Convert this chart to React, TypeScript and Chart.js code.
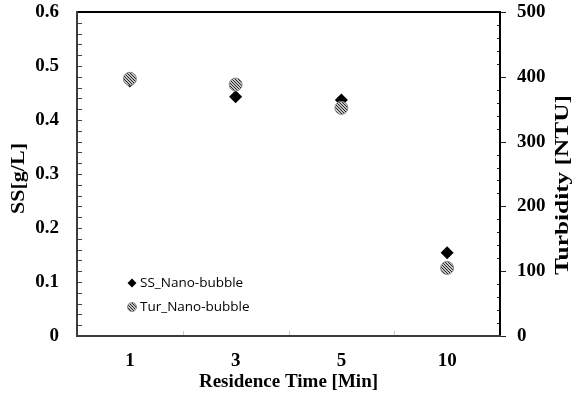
import React, { useEffect, useRef } from "react";
import { Chart, registerables } from "chart.js";

Chart.register(...registerables);

const categories = ["1", "3", "5", "10"];
const ssValues = [0.472, 0.443, 0.437, 0.154];
const turValues = [397, 388, 352, 105];
const ssTicks = [0, 0.1, 0.2, 0.3, 0.4, 0.5, 0.6];
const turTicks = [0, 100, 200, 300, 400, 500];

const SERIF = "'Liberation Serif', 'Times New Roman', serif";
const SANS = "'Open Sans', 'Noto Sans', sans-serif";

function makePattern(ctx: CanvasRenderingContext2D) {
  const pc = document.createElement("canvas");
  pc.width = 3;
  pc.height = 3;
  const g = pc.getContext("2d")!;
  g.fillStyle = "#c4c4c4";
  g.fillRect(0, 0, 3, 3);
  g.fillStyle = "#262626";
  g.fillRect(0, 0, 1, 1);
  g.fillRect(1, 1, 1, 1);
  g.fillRect(2, 2, 1, 1);
  return ctx.createPattern(pc, "repeat")!;
}

function stretchedText(c: CanvasRenderingContext2D, text: string, cx: number, cy: number, targetWidth: number) {
  c.save();
  c.fillStyle = "#000";
  c.font = `bold 19px ${SERIF}`;
  c.textAlign = "center";
  c.textBaseline = "middle";
  const w = c.measureText(text).width;
  c.translate(cx, cy);
  c.rotate(-Math.PI / 2);
  c.scale(targetWidth / w, 1);
  c.fillText(text, 0, 0);
  c.restore();
}

export default function App() {
  const ref = useRef<HTMLCanvasElement | null>(null);

  useEffect(() => {
    const canvas = ref.current!;
    const ctx = canvas.getContext("2d")!;
    const pattern = makePattern(ctx);

    const framePlugin = {
      id: "frame",
      afterDraw(chart: any) {
        const { ctx: c, chartArea: a, scales } = chart;
        const y = scales.y;
        const y2 = scales.y2;
        c.save();
        c.strokeStyle = "#444";
        c.lineWidth = 1;
        for (let i = 0; i <= 30; i++) {
          const py = Math.round(y.getPixelForValue(i * 0.02)) + 0.5;
          c.beginPath();
          c.moveTo(a.left, py);
          c.lineTo(a.left + 5, py);
          c.stroke();
        }
        c.strokeStyle = "#222";
        for (let i = 0; i <= 25; i++) {
          const v = i * 20;
          const py = Math.round(y2.getPixelForValue(v)) + 0.5;
          c.beginPath();
          if (v % 100 === 0) {
            c.moveTo(a.right, py);
            c.lineTo(a.right + 6, py);
          } else {
            c.moveTo(a.right - 3, py);
            c.lineTo(a.right, py);
          }
          c.stroke();
        }
        c.strokeStyle = "#c8c8c8";
        const w = (a.right - a.left) / categories.length;
        for (let k = 1; k < categories.length; k++) {
          const px = Math.round(a.left + k * w) + 0.5;
          c.beginPath();
          c.moveTo(px, a.bottom);
          c.lineTo(px, a.bottom - 5);
          c.stroke();
        }
        c.lineWidth = 2;
        c.strokeStyle = "#000";
        c.beginPath();
        c.moveTo(a.left, a.top);
        c.lineTo(a.right, a.top);
        c.lineTo(a.right, a.bottom);
        c.stroke();
        c.strokeStyle = "#3c3c3c";
        c.beginPath();
        c.moveTo(a.left, a.top - 1);
        c.lineTo(a.left, a.bottom);
        c.lineTo(a.right + 1, a.bottom);
        c.stroke();
        c.restore();

        // axis titles (vertical, reading bottom-to-top)
        stretchedText(c, "SS[g/L]", 19, 178.5, 71);
        stretchedText(c, "Turbidity [NTU]", 563, 185, 180);

        // legend
        c.save();
        const lx = 132;
        const ly1 = 283;
        const ly2 = 307;
        c.fillStyle = "#000";
        c.beginPath();
        c.moveTo(lx, ly1 - 4.5);
        c.lineTo(lx + 4.5, ly1);
        c.lineTo(lx, ly1 + 4.5);
        c.lineTo(lx - 4.5, ly1);
        c.closePath();
        c.fill();
        c.beginPath();
        c.arc(lx, ly2, 4.5, 0, Math.PI * 2);
        c.fillStyle = pattern;
        c.fill();
        c.strokeStyle = "#888";
        c.lineWidth = 1;
        c.stroke();
        c.fillStyle = "#000";
        c.font = `13.5px ${SANS}`;
        c.textAlign = "left";
        c.textBaseline = "middle";
        c.fillText("SS_Nano-bubble", 140, ly1);
        c.fillText("Tur_Nano-bubble", 140, ly2);
        c.restore();
      },
    };

    const noPad = (scale: any) => {
      scale.paddingTop = 0;
      scale.paddingBottom = 0;
    };

    const chart = new Chart(canvas, {
      type: "line",
      data: {
        labels: categories,
        datasets: [
          {
            label: "SS_Nano-bubble",
            data: ssValues,
            yAxisID: "y",
            showLine: false,
            pointStyle: "rectRot",
            pointRadius: 6.5,
            backgroundColor: "#000",
            borderColor: "#000",
            borderWidth: 0,
            order: 1,
          },
          {
            label: "Tur_Nano-bubble",
            data: turValues,
            yAxisID: "y2",
            showLine: false,
            pointStyle: "circle",
            pointRadius: 6.5,
            backgroundColor: pattern as any,
            borderColor: "#8a8a8a",
            borderWidth: 1,
            order: 0,
          },
        ],
      },
      options: {
        responsive: false,
        animation: false,
        devicePixelRatio: 1,
        layout: { padding: { top: 12, left: 0, right: 0, bottom: 0 } },
        plugins: {
          legend: { display: false },
          tooltip: { enabled: false },
        },
        scales: {
          x: {
            type: "category",
            offset: true,
            grid: { display: false, drawTicks: false },
            border: { display: false },
            ticks: {
              color: "#000",
              font: { family: SERIF, size: 19, weight: "bold" },
              padding: 14,
            },
            title: {
              display: true,
              text: "Residence Time [Min]",
              color: "#000",
              font: { family: SERIF, size: 19, weight: "bold" },
              padding: { top: 0, bottom: 5 },
            },
            afterFit(scale: any) {
              scale.height = 62;
            },
          },
          y: {
            position: "left",
            min: 0,
            max: 0.6,
            grid: { display: false, drawTicks: false },
            border: { display: false },
            afterBuildTicks(scale: any) {
              scale.ticks = ssTicks.map((v) => ({ value: v }));
            },
            ticks: {
              color: "#000",
              font: { family: SERIF, size: 19, weight: "bold" },
              padding: 18,
              callback: (v: any) => (v === 0 ? "0" : Number(v).toFixed(1)),
            },
            afterFit(scale: any) {
              scale.width = 77;
              noPad(scale);
            },
          },
          y2: {
            position: "right",
            min: 0,
            max: 500,
            grid: { display: false, drawTicks: false },
            border: { display: false },
            afterBuildTicks(scale: any) {
              scale.ticks = turTicks.map((v) => ({ value: v }));
            },
            ticks: {
              color: "#000",
              font: { family: SERIF, size: 19, weight: "bold" },
              padding: 17,
            },
            afterFit(scale: any) {
              scale.width = 80;
              noPad(scale);
            },
          },
        },
      },
      plugins: [framePlugin],
    });

    return () => chart.destroy();
  }, []);

  return (
    <div style={{ position: "fixed", left: 0, top: 0, width: 580, height: 398, background: "#fff" }}>
      <canvas ref={ref} width={580} height={398} style={{ width: 580, height: 398, display: "block" }} />
    </div>
  );
}
